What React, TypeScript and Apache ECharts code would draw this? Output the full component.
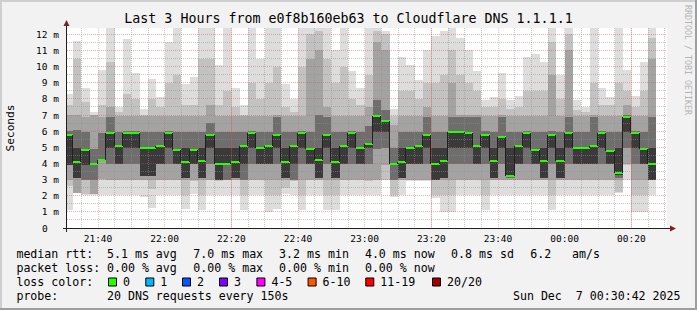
import React, { useEffect, useRef } from 'react';
import * as echarts from 'echarts';

const FONT = '"DejaVu Sans Mono", monospace';

// time axis in minutes after 21:00 (Dec 6)
const viewStart = 30.7; // 21:30:42
const viewEnd = 210.7; // 00:30:42
const firstColumnStart = 30; // 21:30:00
const stepMinutes = 2.5; // 150 s

const timeTicks = [40, 60, 80, 100, 120, 140, 160, 180, 200];
const valueTicks = [0, 1, 2, 3, 4, 5, 6, 7, 8, 9, 10, 11, 12];
const yMax = 12.39;
const strongLines = [80, 140, 200];

// median rtt per 150 s step (ms)
const medians = [
  5.76, 4.07, 4.81, 3.95, 4.2, 5.86, 5.08, 5.91, 5.86, 4.94, 4.94, 5.08, 5.86,
  4.81, 4.07, 4.81, 4.16, 5.76, 3.95, 3.95, 4.07, 5.08, 5.86, 4.94, 5.08,
  5.76, 4.07, 5.08, 5.86, 4.88, 4.2, 5.76, 4.07, 5.08, 5.86, 4.94, 5.19,
  6.91, 6.63, 3.99, 4.07, 4.94, 5.08, 5.76, 3.95, 4.14, 5.93, 5.93, 5.86,
  5.08, 5.76, 4.14, 5.64, 3.23, 5.08, 5.86, 4.81, 4.14, 5.76, 4.14, 5.86,
  4.94, 4.94, 5.08, 5.86, 4.77, 3.4, 6.87, 5.86, 4.9, 3.95,
];

// smoke: sorted rtt boundaries per step (ms), pairs (0,9) (1,8) (2,7) (3,6) (4,5)
const smoke = [
  [1.1, 2.6, 3.0, 3.9, 3.9, 5.8, 6.0, 7.0, 7.6, 8.3],
  [2.15, 2.15, 2.15, 3.1, 3.1, 4.94, 6.05, 7.0, 10.5, 11.6],
  [2.06, 2.1, 3.0, 3.0, 3.9, 4.85, 5.95, 6.9, 7.8, 8.7],
  [2.06, 2.1, 2.1, 3.0, 3.9, 4.0, 4.9, 7.0, 7.0, 7.2],
  [2.06, 3.0, 3.05, 4.2, 4.2, 4.25, 5.9, 6.9, 7.6, 9.8],
  [2.06, 3.0, 3.0, 3.95, 4.94, 5.9, 6.9, 7.5, 10.3, 13],
  [2.06, 3.0, 3.0, 3.95, 3.95, 5.1, 5.95, 6.95, 7.2, 7.5],
  [2.06, 3.0, 3.0, 3.95, 4.94, 5.95, 6.0, 6.95, 8.3, 11.7],
  [2.06, 3.0, 3.0, 3.95, 4.94, 5.9, 6.0, 6.95, 8.0, 9.6],
  [1.9, 3.0, 3.0, 3.2, 3.2, 4.98, 5.95, 6.95, 7.0, 7.4],
  [1.25, 2.4, 3.0, 3.2, 3.2, 4.98, 5.95, 6.95, 8.0, 9.2],
  [2.06, 3.0, 3.0, 3.95, 3.95, 5.1, 5.95, 6.95, 7.5, 8.1],
  [2.06, 3.0, 3.0, 3.95, 4.94, 5.9, 6.0, 6.95, 9.0, 11.5],
  [2.06, 3.0, 3.0, 3.95, 3.95, 4.85, 5.95, 6.95, 9.5, 13],
  [1.2, 2.06, 3.0, 3.1, 3.1, 4.94, 5.95, 6.95, 7.6, 8.95],
  [2.1, 2.9, 3.0, 3.95, 3.95, 4.85, 5.95, 6.95, 7.6, 9.35],
  [1.1, 2.06, 3.0, 3.1, 3.1, 4.94, 5.95, 6.95, 10.5, 13],
  [2.06, 3.0, 3.0, 3.95, 4.94, 5.8, 6.5, 7.6, 10.5, 13],
  [2.06, 2.9, 3.0, 3.0, 3.0, 4.94, 5.95, 6.95, 7.6, 10.1],
  [2.06, 3.0, 3.0, 3.0, 3.9, 4.94, 5.95, 6.95, 8.5, 13],
  [2.06, 3.0, 3.0, 3.1, 3.1, 4.94, 5.95, 6.95, 7.5, 8.7],
  [1.1, 2.06, 3.0, 3.0, 3.95, 5.1, 5.95, 6.95, 7.0, 7.6],
  [2.06, 3.0, 3.0, 3.95, 4.94, 5.9, 6.0, 6.95, 9.0, 13],
  [2.06, 3.0, 3.0, 3.95, 3.95, 4.98, 5.95, 6.95, 8.0, 10.5],
  [1.0, 2.06, 3.0, 3.95, 3.95, 5.1, 5.95, 6.95, 9.0, 12.5],
  [1.2, 2.06, 3.0, 3.95, 4.94, 5.8, 6.9, 7.0, 10.0, 12.5],
  [2.1, 2.5, 3.0, 3.1, 3.1, 4.94, 5.95, 6.95, 7.5, 8.95],
  [2.06, 2.9, 3.0, 3.0, 3.95, 5.1, 5.95, 6.95, 7.2, 8.0],
  [1.1, 2.06, 3.0, 3.95, 4.94, 5.9, 6.0, 6.95, 10.0, 12.5],
  [2.06, 3.0, 3.0, 3.95, 3.95, 4.9, 5.95, 10.5, 12.0, 12.5],
  [2.06, 3.0, 3.0, 3.1, 3.1, 4.94, 7.0, 11.0, 12.2, 12.5],
  [1.1, 2.06, 3.0, 3.95, 4.94, 5.8, 6.9, 7.5, 10.5, 12.5],
  [1.1, 2.06, 3.0, 3.1, 3.1, 4.94, 5.95, 6.95, 9.0, 11.0],
  [2.06, 3.0, 3.0, 3.95, 3.95, 5.1, 5.95, 6.95, 10.0, 12.5],
  [2.06, 3.0, 3.0, 3.95, 4.94, 5.9, 6.0, 6.95, 8.0, 9.7],
  [2.06, 3.0, 3.0, 3.95, 3.95, 4.98, 5.95, 6.95, 7.6, 8.7],
  [2.06, 2.9, 3.0, 3.95, 4.94, 5.2, 6.3, 7.5, 9.5, 12.5],
  [2.06, 3.0, 3.0, 4.9, 5.95, 6.95, 7.9, 11.5, 12.2, 12.5],
  [2.95, 3.0, 3.9, 4.94, 5.95, 6.65, 7.3, 11.0, 12.0, 12.2],
  [1.95, 2.06, 3.0, 3.0, 3.9, 4.0, 4.94, 6.4, 6.95, 7.4],
  [2.06, 3.0, 3.0, 3.1, 3.1, 4.94, 5.95, 6.95, 8.5, 10.6],
  [2.9, 2.95, 3.0, 3.95, 3.95, 4.98, 5.95, 6.95, 8.5, 10.1],
  [2.9, 2.95, 3.0, 3.95, 3.95, 5.1, 5.95, 6.95, 8.0, 9.15],
  [2.9, 2.95, 3.0, 3.95, 4.94, 5.8, 6.9, 7.5, 9.0, 11.0],
  [1.85, 2.06, 3.0, 3.0, 3.0, 4.94, 5.95, 6.95, 9.0, 11.9],
  [1.0, 2.06, 3.0, 3.1, 3.1, 4.94, 5.95, 6.95, 9.5, 12.2],
  [1.0, 2.06, 3.0, 3.95, 4.94, 5.95, 6.9, 9.0, 11.0, 12.5],
  [2.06, 3.0, 3.0, 3.95, 4.94, 5.95, 6.9, 7.0, 9.5, 11.8],
  [2.06, 3.0, 3.0, 3.95, 4.94, 5.9, 6.9, 7.0, 9.0, 11.0],
  [2.06, 3.0, 3.0, 3.95, 3.95, 5.1, 6.9, 7.0, 8.5, 9.7],
  [1.1, 2.06, 3.0, 3.95, 4.94, 5.8, 6.0, 6.95, 7.5, 7.9],
  [2.06, 3.0, 3.0, 3.1, 3.1, 4.94, 5.95, 6.95, 7.5, 8.1],
  [2.06, 3.0, 3.0, 3.95, 4.94, 5.7, 6.9, 7.0, 8.0, 9.6],
  [2.06, 3.0, 3.0, 3.1, 3.2, 4.94, 5.95, 6.95, 7.4, 7.9],
  [2.06, 3.0, 3.0, 3.95, 3.95, 5.1, 5.95, 6.95, 7.5, 8.2],
  [2.06, 3.0, 3.0, 3.95, 4.94, 5.9, 6.0, 6.95, 8.5, 10.6],
  [2.06, 3.0, 3.0, 3.95, 3.95, 4.85, 5.95, 6.95, 8.5, 10.8],
  [2.06, 3.0, 3.0, 3.1, 3.1, 4.94, 5.95, 6.95, 8.5, 10.3],
  [1.1, 2.06, 3.0, 3.95, 4.94, 5.8, 6.0, 9.5, 11.5, 12.5],
  [2.06, 3.0, 3.0, 3.1, 3.1, 4.94, 5.95, 6.95, 8.0, 9.5],
  [2.06, 3.0, 3.0, 3.95, 4.94, 5.9, 6.9, 11.0, 12.0, 12.5],
  [2.06, 3.0, 3.0, 3.95, 3.95, 4.98, 5.95, 6.95, 7.3, 7.9],
  [2.06, 3.0, 3.0, 3.95, 3.95, 4.98, 5.95, 6.95, 7.2, 7.5],
  [2.06, 2.95, 3.0, 3.95, 3.95, 5.1, 6.9, 7.0, 9.0, 12.5],
  [2.06, 3.0, 3.0, 3.95, 4.94, 5.9, 6.0, 6.95, 7.6, 8.7],
  [2.06, 3.0, 3.0, 3.95, 3.95, 4.8, 5.95, 6.95, 7.6, 8.1],
  [2.15, 2.2, 3.0, 3.1, 3.3, 4.94, 5.95, 6.95, 9.0, 12.5],
  [3.0, 3.9, 3.95, 4.94, 5.95, 6.9, 7.0, 7.6, 8.5, 9.8],
  [1.0, 2.06, 3.0, 3.95, 4.94, 5.9, 6.0, 6.95, 7.5, 8.2],
  [1.0, 2.06, 3.0, 3.95, 3.95, 4.94, 5.95, 6.95, 8.5, 10.3],
  [2.06, 2.95, 3.0, 3.0, 3.0, 4.94, 6.9, 10.5, 11.8, 12.5],
];
const smokeColors = ['#dddddd', '#c2c2c2', '#a3a3a3', '#6e6e6e', '#3a3a3a'];

const title = 'Last 3 Hours from e0f8b160eb63 to Cloudflare DNS 1.1.1.1';
const medianStats = ['5.1 ms avg', '7.0 ms max', '3.2 ms min', '4.0 ms now', '0.8 ms sd', '6.2', 'am/s'];
const lossStats = ['0.00 % avg', '0.00 % max', '0.00 % min', '0.00 % now'];
const lossLegend = [
  { label: '0', color: '#26ff00' },
  { label: '1', color: '#00b8ff' },
  { label: '2', color: '#0059ff' },
  { label: '3', color: '#7e00ff' },
  { label: '4-5', color: '#ff00ff' },
  { label: '6-10', color: '#ff5500' },
  { label: '11-19', color: '#ff0000' },
  { label: '20/20', color: '#a10000' },
];
const probeText = '20 DNS requests every 150s';
const dateText = 'Sun Dec  7 00:30:42 2025';

// layout (pixels)
const GL = 67, GT = 28, GW = 600, GH = 200;
const statX = [107, 193.3, 279.1, 364.9, 451.1, 530.2, 572];
const boxX = [108, 145.3, 182, 219, 256.4, 307.6, 365.3, 432];
const rowY = [254, 268, 282, 296];

const pad2 = (n: number) => String(n).padStart(2, '0');
const fmtTime = (v: number) => {
  const tot = Math.round(21 * 60 + v);
  return pad2(Math.floor(tot / 60) % 24) + ':' + pad2(tot % 60);
};

function txt(text: string, x: number, y: number, size: number, extra: any = {}) {
  return {
    type: 'text',
    x,
    y,
    silent: true,
    style: {
      text,
      fill: extra.fill || '#000',
      font: `${size}px ${FONT}`,
      textAlign: extra.align || 'left',
      textVerticalAlign: 'middle',
    },
    rotation: extra.rotation || 0,
  };
}

function buildOption() {
  const graphic: any[] = [];
  // frame
  graphic.push({ type: 'rect', shape: { x: 0, y: 0, width: 697, height: 2 }, style: { fill: '#cfcfcf' }, silent: true });
  graphic.push({ type: 'rect', shape: { x: 0, y: 0, width: 2, height: 310 }, style: { fill: '#cfcfcf' }, silent: true });
  graphic.push({ type: 'rect', shape: { x: 0, y: 308, width: 697, height: 2 }, style: { fill: '#9e9e9e' }, silent: true });
  graphic.push({ type: 'rect', shape: { x: 695, y: 0, width: 2, height: 310 }, style: { fill: '#9e9e9e' }, silent: true });

  graphic.push(txt(title, 348.5, 18, 13.3, { align: 'center' }));
  graphic.push(txt('Seconds', 10, GT + GH / 2, 11.2, { align: 'center', rotation: Math.PI / 2 }));
  graphic.push(txt('RRDTOOL / TOBI OETIKER', 688, 5, 8.3, { rotation: -Math.PI / 2, fill: '#b4b4b4' }));

  // axes lines + arrows
  graphic.push({ type: 'line', shape: { x1: 63, y1: GT + GH + 0.5, x2: 671, y2: GT + GH + 0.5 }, style: { stroke: '#1f1f1f', lineWidth: 1 }, silent: true, z: 10 });
  graphic.push({ type: 'line', shape: { x1: GL - 0.5, y1: GT + GH + 4, x2: GL - 0.5, y2: 24 }, style: { stroke: '#1f1f1f', lineWidth: 1 }, silent: true, z: 10 });
  graphic.push({ type: 'polygon', shape: { points: [[670, 225.5], [676, 228.5], [670, 231.5]] }, style: { fill: '#801f1f' }, silent: true, z: 10 });
  graphic.push({ type: 'polygon', shape: { points: [[63.5, 26], [66.5, 20], [69.5, 26]] }, style: { fill: '#801f1f' }, silent: true, z: 10 });

  // legend
  graphic.push(txt('median rtt:', 16.4, rowY[0], 11.6));
  medianStats.forEach((s, i) => graphic.push(txt(s, statX[i], rowY[0], 11.6)));
  graphic.push(txt('packet loss:', 16.4, rowY[1], 11.6));
  lossStats.forEach((s, i) => graphic.push(txt(s, statX[i], rowY[1], 11.6)));
  graphic.push(txt('loss color:', 16.4, rowY[2], 11.6));
  lossLegend.forEach((l, i) => {
    graphic.push({ type: 'rect', shape: { x: boxX[i] + 0.5, y: rowY[2] - 4, width: 8, height: 8 }, style: { fill: l.color, stroke: '#000', lineWidth: 1 }, silent: true });
    graphic.push(txt(l.label, boxX[i] + 15, rowY[2], 11.6));
  });
  graphic.push(txt('probe:', 16.4, rowY[3], 11.6));
  graphic.push(txt(probeText, 107, rowY[3], 11.6));
  graphic.push(txt(dateText, 680.5, rowY[3], 11.6, { align: 'right' }));

  const colData = smoke.map((_, k) => [firstColumnStart + k * stepMinutes, medians[k]]);

  return {
    animation: false,
    backgroundColor: '#f2f2f2',
    grid: { left: GL, top: GT, width: GW, height: GH, show: true, backgroundColor: '#ffffff', borderWidth: 0 },
    xAxis: {
      type: 'value',
      min: viewStart,
      max: viewEnd,
      axisLine: { show: false },
      axisTick: { show: false },
      splitLine: { show: false },
      axisLabel: {
        customValues: timeTicks,
        formatter: (v: number) => fmtTime(v),
        fontFamily: FONT,
        fontSize: 9.5,
        color: '#000',
        margin: 5,
      },
    },
    yAxis: {
      type: 'value',
      min: 0,
      max: yMax,
      axisLine: { show: false },
      axisTick: { show: false },
      splitLine: { show: false },
      axisLabel: {
        customValues: valueTicks,
        formatter: (v: number) => (v === 0 ? '{z|0}' : `${v} m`),
        fontFamily: FONT,
        fontSize: 9.5,
        color: '#000',
        margin: 8,
        rich: { z: { fontFamily: FONT, fontSize: 9.5, color: '#000', padding: [0, 11.4, 0, 0] } },
      },
    },
    graphic,
    series: [
      {
        type: 'custom',
        name: 'smoke',
        clip: true,
        z: 1,
        data: colData,
        renderItem: (params: any, api: any) => {
          const k = params.dataIndex;
          const b = smoke[k];
          const x0 = firstColumnStart + k * stepMinutes;
          const x1 = x0 + stepMinutes;
          const children: any[] = [];
          for (let i = 0; i < 5; i++) {
            const p0 = api.coord([x0, b[i]]);
            const p1 = api.coord([x1, b[9 - i]]);
            const xa = Math.round(p0[0]);
            const xb = Math.round(p1[0]);
            const ya = Math.round(p1[1]);
            const yb = Math.round(p0[1]);
            if (yb - ya <= 0) continue;
            children.push({ type: 'rect', shape: { x: xa, y: ya, width: xb - xa, height: yb - ya }, style: { fill: smokeColors[i] } });
          }
          return { type: 'group', children };
        },
      },
      {
        type: 'custom',
        name: 'grid',
        clip: true,
        z: 2,
        silent: true,
        data: [[viewStart, 0]],
        renderItem: (params: any, api: any) => {
          const children: any[] = [];
          const minor = 'rgba(143,143,143,0.5)';
          const major = 'rgba(222,79,79,0.45)';
          for (let v = 0.5; v < yMax; v += 0.5) {
            const isMajor = Math.abs(v - Math.round(v)) < 1e-6;
            const p = api.coord([viewStart, v]);
            const y = Math.floor(p[1]) + 0.5;
            children.push({ type: 'line', shape: { x1: GL, y1: y, x2: GL + GW, y2: y }, style: { stroke: isMajor ? major : minor, lineWidth: 1, lineDash: [1, 1] } });
          }
          for (let t = 35; t < viewEnd; t += 5) {
            const isMajor = timeTicks.indexOf(t) >= 0;
            const p = api.coord([t, 0]);
            const x = Math.floor(p[0]) + 0.5;
            children.push({ type: 'line', shape: { x1: x, y1: GT, x2: x, y2: GT + GH }, style: { stroke: isMajor ? 'rgba(222,79,79,0.35)' : minor, lineWidth: 1, lineDash: [1, 1] } });
          }
          strongLines.forEach((t) => {
            const p = api.coord([t, 0]);
            const x = Math.floor(p[0]) + 0.5;
            children.push({ type: 'line', shape: { x1: x, y1: GT, x2: x, y2: GT + GH }, style: { stroke: 'rgba(222,79,79,0.25)', lineWidth: 1 } });
          });
          return { type: 'group', children };
        },
      },
      {
        type: 'custom',
        name: 'median',
        clip: true,
        z: 3,
        data: colData,
        renderItem: (params: any, api: any) => {
          const k = params.dataIndex;
          const x0 = firstColumnStart + k * stepMinutes;
          const x1 = x0 + stepMinutes;
          const p0 = api.coord([x0, medians[k]]);
          const p1 = api.coord([x1, medians[k]]);
          const xa = Math.round(p0[0]);
          const xb = Math.round(p1[0]);
          const y = Math.round(p0[1]);
          const children: any[] = [];
          if (k > 0) {
            const pp = api.coord([x0, medians[k - 1]]);
            const yp = Math.round(pp[1]);
            children.push({ type: 'line', shape: { x1: xa - 0.5, y1: yp, x2: xa - 0.5, y2: y }, style: { stroke: '#202020', lineWidth: 1 } });
          }
          children.push({ type: 'rect', shape: { x: xa, y: y - 1, width: xb - xa, height: 2 }, style: { fill: '#26ff00' } });
          return { type: 'group', children };
        },
      },
    ],
  };
}

export default function App() {
  const ref = useRef<HTMLDivElement>(null);
  useEffect(() => {
    document.body.style.margin = '0';
    const chart = echarts.init(ref.current as HTMLDivElement, null, { renderer: 'svg', width: 697, height: 310 });
    chart.setOption(buildOption() as any);
    return () => chart.dispose();
  }, []);
  return <div ref={ref} style={{ width: 697, height: 310, position: 'absolute', left: 0, top: 0 }} />;
}
